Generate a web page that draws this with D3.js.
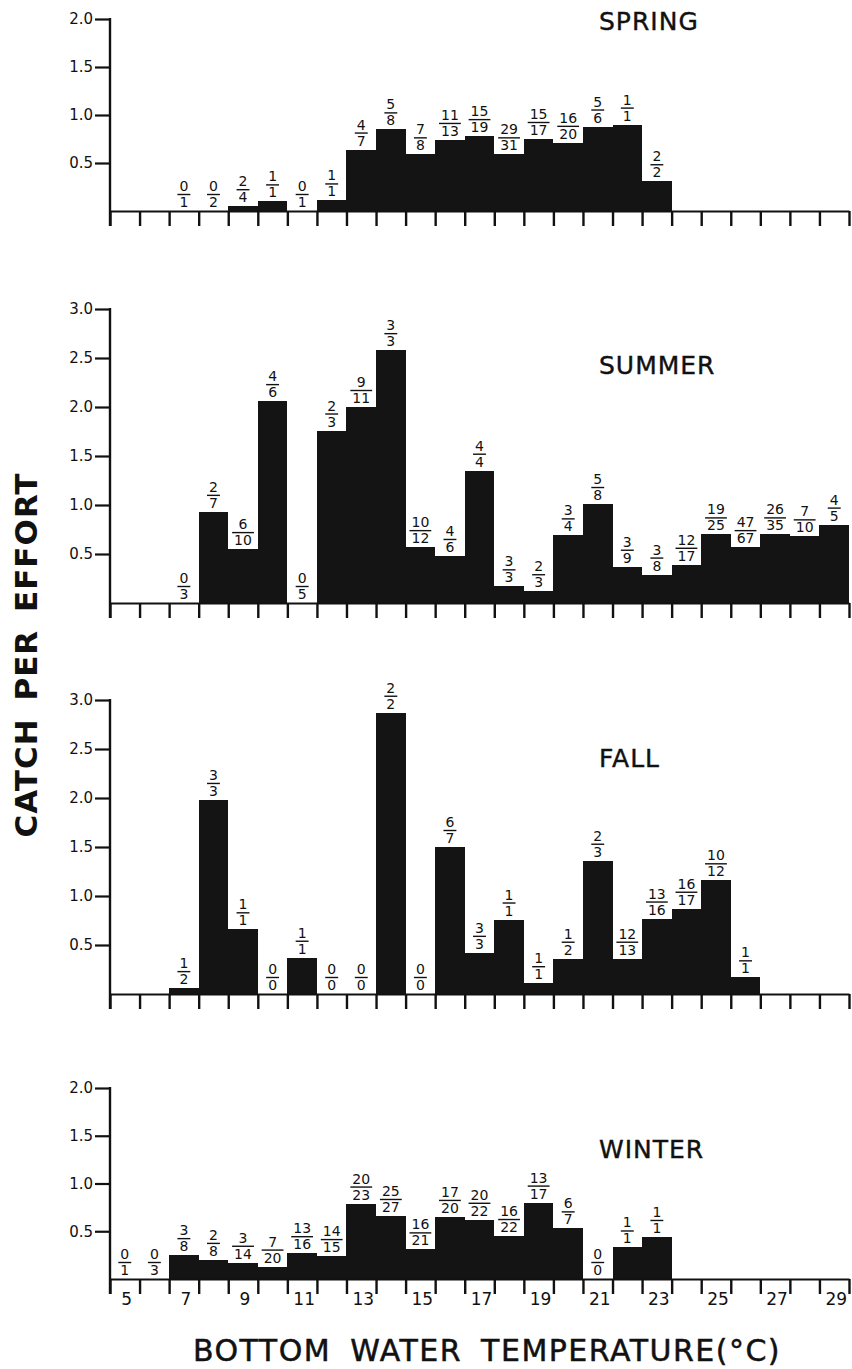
<!DOCTYPE html>
<html>
<head>
<meta charset="utf-8">
<script src="https://cdn.jsdelivr.net/npm/d3@7"></script>
<style>
  body { margin: 0; background: #fff; }
  text { font-family: "DejaVu Sans", sans-serif; fill: #111; }
</style>
</head>
<body>
<div id="chart"></div>
<script>
// Catch per effort by bottom water temperature, one panel per season
const svgWidth = 852
const svgHeight = 1369

// temperature bins (deg C), each bin is [t, t+1)
const springTemps = [7, 8, 9, 10, 11, 12, 13, 14, 15, 16, 17, 18, 19, 20, 21, 22, 23]
const springCpue = [0, 0, 0.05, 0.10, 0, 0.11, 0.64, 0.85, 0.59, 0.74, 0.78, 0.59, 0.75, 0.71, 0.88, 0.90, 0.31]
const springLabels = ["0/1", "0/2", "2/4", "1/1", "0/1", "1/1", "4/7", "5/8", "7/8", "11/13", "15/19", "29/31", "15/17", "16/20", "5/6", "1/1", "2/2"]

const summerTemps = [7, 8, 9, 10, 11, 12, 13, 14, 15, 16, 17, 18, 19, 20, 21, 22, 23, 24, 25, 26, 27, 28, 29]
const summerCpue = [0, 0.93, 0.55, 2.06, 0, 1.76, 2.00, 2.58, 0.57, 0.48, 1.35, 0.17, 0.12, 0.69, 1.01, 0.37, 0.29, 0.39, 0.70, 0.57, 0.70, 0.68, 0.80]
const summerLabels = ["0/3", "2/7", "6/10", "4/6", "0/5", "2/3", "9/11", "3/3", "10/12", "4/6", "4/4", "3/3", "2/3", "3/4", "5/8", "3/9", "3/8", "12/17", "19/25", "47/67", "26/35", "7/10", "4/5"]

const fallTemps = [7, 8, 9, 10, 11, 12, 13, 14, 15, 16, 17, 18, 19, 20, 21, 22, 23, 24, 25, 26]
const fallCpue = [0.06, 1.98, 0.66, 0, 0.37, 0, 0, 2.87, 0, 1.50, 0.42, 0.76, 0.11, 0.36, 1.36, 0.36, 0.77, 0.87, 1.16, 0.17]
const fallLabels = ["1/2", "3/3", "1/1", "0/0", "1/1", "0/0", "0/0", "2/2", "0/0", "6/7", "3/3", "1/1", "1/1", "1/2", "2/3", "12/13", "13/16", "16/17", "10/12", "1/1"]

const winterTemps = [5, 6, 7, 8, 9, 10, 11, 12, 13, 14, 15, 16, 17, 18, 19, 20, 21, 22, 23]
const winterCpue = [0, 0, 0.25, 0.20, 0.17, 0.13, 0.27, 0.24, 0.79, 0.66, 0.31, 0.65, 0.62, 0.45, 0.80, 0.53, 0, 0.33, 0.44]
const winterLabels = ["0/1", "0/3", "3/8", "2/8", "3/14", "7/20", "13/16", "14/15", "20/23", "25/27", "16/21", "17/20", "20/22", "16/22", "13/17", "6/7", "0/0", "1/1", "1/1"]

const tempTickLabels = [5, 7, 9, 11, 13, 15, 17, 19, 21, 23, 25, 27, 29]

// panel layout
let panels = [
  { name: "SPRING", temps: springTemps, cpue: springCpue, labels: springLabels, base: 211, max: 2, unit: 96, titleY: 30 },
  { name: "SUMMER", temps: summerTemps, cpue: summerCpue, labels: summerLabels, base: 603, max: 3, unit: 98, titleY: 374 },
  { name: "FALL", temps: fallTemps, cpue: fallCpue, labels: fallLabels, base: 994, max: 3, unit: 98, titleY: 767 },
  { name: "WINTER", temps: winterTemps, cpue: winterCpue, labels: winterLabels, base: 1279, max: 2, unit: 95.5, titleY: 1158 }
]

let svg = d3
  .select("#chart")
  .append("svg")
  .attr("width", svgWidth)
  .attr("height", svgHeight)

let x = d3.scaleLinear().domain([5, 30]).range([110, 849])

panels.forEach((p, i) => {
  let y = d3.scaleLinear().domain([0, p.max]).range([p.base, p.base - p.max * p.unit])
  let g = svg.append("g")

  // bars, snapped to pixels so neighbours merge without seams
  g.selectAll("rect")
    .data(p.temps)
    .enter()
    .append("rect")
    .attr("x", t => x(t))
    .attr("width", t => x(t + 1) - x(t))
    .attr("y", (t, j) => y(p.cpue[j]))
    .attr("height", (t, j) => y(0) - y(p.cpue[j]))
    .attr("fill", "#141414")
    .attr("shape-rendering", "crispEdges")

  // bottom axis: baseline + a tick at every degree
  let xAxis = g.append("g")
    .attr("transform", `translate(0, ${p.base})`)
    .call(d3.axisBottom(x).tickValues(d3.range(5, 31)).tickSize(15).tickSizeOuter(0).tickFormat(""))
  xAxis.select(".domain").attr("stroke", "#111").attr("stroke-width", 2.2)
  xAxis.selectAll(".tick line").attr("stroke", "#111").attr("stroke-width", 2.4)

  // left axis
  let yAxis = g.append("g")
    .attr("transform", "translate(110, 0)")
    .call(d3.axisLeft(y)
      .tickValues(d3.range(0.5, p.max + 0.01, 0.5))
      .tickSize(15)
      .tickPadding(2)
      .tickFormat(d3.format(".1f")))
  yAxis.select(".domain").remove()
  yAxis.selectAll(".tick line").attr("stroke", "#111").attr("stroke-width", 2.2)
  yAxis.selectAll(".tick text")
    .style("font-size", "15px")
    .attr("fill", "#111")
  yAxis.append("line")
    .attr("x1", 0).attr("x2", 0)
    .attr("y1", y(p.max) - 1)
    .attr("y2", p.base + 15)
    .attr("stroke", "#111")
    .attr("stroke-width", 2.4)

  // fraction labels above each bar
  let frac = g.selectAll(".frac")
    .data(p.temps)
    .enter()
    .append("g")
    .attr("class", "frac")
    .attr("transform", (t, j) => `translate(${x(t + 0.5)}, ${y(p.cpue[j])})`)

  frac.append("text")
    .attr("y", -20)
    .attr("text-anchor", "middle")
    .style("font-size", "14px")
    .text((t, j) => p.labels[j].split("/")[0])
  frac.append("text")
    .attr("y", -4)
    .attr("text-anchor", "middle")
    .style("font-size", "14px")
    .text((t, j) => p.labels[j].split("/")[1])
  frac.each(function() {
    let texts = d3.select(this).selectAll("text").nodes()
    let w = d3.max(texts, n => n.getComputedTextLength()) + 4
    d3.select(this).append("line")
      .attr("x1", -w / 2).attr("x2", w / 2)
      .attr("y1", -16.5).attr("y2", -16.5)
      .attr("stroke", "#111")
      .attr("stroke-width", 1.4)
  })

  // season title
  g.append("text")
    .attr("x", 599)
    .attr("y", p.titleY)
    .style("font-size", "25px")
    .style("letter-spacing", "1px")
    .style("stroke", "#111")
    .style("stroke-width", 0.4)
    .text(p.name)

  // temperature labels only under the last panel
  if (i === panels.length - 1) {
    g.selectAll(".tlab")
      .data(tempTickLabels)
      .enter()
      .append("text")
      .attr("class", "tlab")
      .attr("x", t => x(t + 0.5) + 2)
      .attr("y", p.base + 26)
      .attr("text-anchor", "middle")
      .style("font-size", "17px")
      .text(t => t)
  }
})

// axis titles
svg.append("text")
  .attr("transform", "translate(37, 655) rotate(-90)")
  .attr("text-anchor", "middle")
  .style("font-size", "31px")
  .style("font-weight", "bold")
  .style("letter-spacing", "1px")
  .style("word-spacing", "6px")
  .text("CATCH PER EFFORT")

svg.append("text")
  .attr("x", 487)
  .attr("y", 1361)
  .attr("text-anchor", "middle")
  .style("font-size", "30px")
  .style("letter-spacing", "1.5px")
  .style("word-spacing", "8px")
  .style("stroke", "#111")
  .style("stroke-width", 0.5)
  .text("BOTTOM WATER TEMPERATURE(°C)")
</script>
</body>
</html>
